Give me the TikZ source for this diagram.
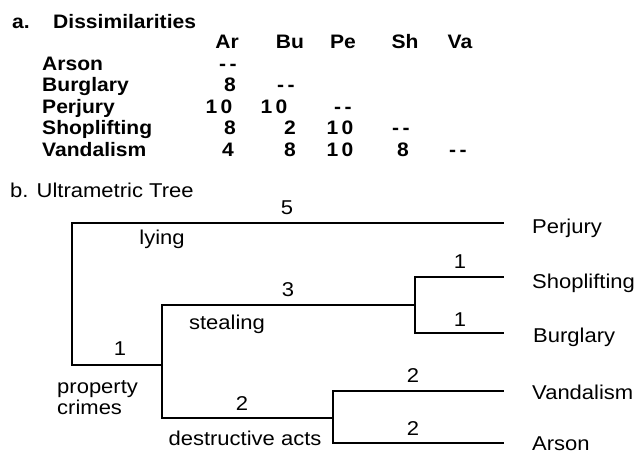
\documentclass[tikz,border=0pt]{standalone}
\usepackage{fontspec}
\setmainfont{Liberation Sans}
\begin{document}
\begin{tikzpicture}[x=1pt,y=-1pt,
  tb/.style={inner sep=0pt,font=\fontsize{19.5}{21}\selectfont\bfseries,xscale=1.08},
  lbl/.style={tb,anchor=mid west},
  val/.style={tb,anchor=mid},
  tt/.style={inner sep=0pt,font=\fontsize{20}{22}\selectfont,xscale=1.1},
  tl/.style={tt,anchor=mid},
  br/.style={line width=2.6pt,line cap=rect}]
\useasboundingbox (0,0) rectangle (638,455);
% ---- part a
\node[lbl] (ta) at (12,26) {a.};
\node[lbl] (tdis) at (53,26) {Dissimilarities};
\node[val] (hAr) at (227,46) {Ar};
\node[val] (hBu) at (290,46) {Bu};
\node[val] (hPe) at (343,46) {Pe};
\node[val] (hSh) at (405,46) {Sh};
\node[val] (hVa) at (460,46) {Va};
\node[lbl] (rAr) at (42,68) {Arson};
\node[lbl] (rBu) at (42,89) {Burglary};
\node[lbl] (rPe) at (42,111) {Perjury};
\node[lbl] (rSh) at (42,132) {Shoplifting};
\node[lbl] (rVa) at (42,154) {Vandalism};
\node[val] (v11) at (228,68) {-\,-};
\node[val] (v21) at (230,89) {8};
\node[val] (v22) at (286,89) {-\,-};
\node[val] (v31) at (219,111) {1\,0};
\node[val] (v32) at (274,111) {1\,0};
\node[val] (v33) at (343,111) {-\,-};
\node[val] (v41) at (230,132) {8};
\node[val] (v42) at (290,132) {2};
\node[val] (v43) at (340,132) {1\,0};
\node[val] (v44) at (401,132) {-\,-};
\node[val] (v51) at (228,154) {4};
\node[val] (v52) at (290,154) {8};
\node[val] (v53) at (340,154) {1\,0};
\node[val] (v54) at (403,154) {8};
\node[val] (v55) at (458,154) {-\,-};
% ---- part b
\node[tt,anchor=mid west] (tb) at (10,195) {b. Ultrametric Tree};
% junction coordinates
\coordinate (rt) at (72,223);
\coordinate (rb) at (72,365);
\coordinate (n1) at (162,365);
\coordinate (n1t) at (162,305);
\coordinate (n1b) at (162,418);
\coordinate (n2) at (415,305);
\coordinate (n2t) at (415,277);
\coordinate (n2b) at (415,333);
\coordinate (n3) at (333,418);
\coordinate (n3t) at (333,391);
\coordinate (n3b) at (333,443);
\coordinate (ePe) at (503,223);
\coordinate (eSh) at (503,277);
\coordinate (eBu) at (503,333);
\coordinate (eVa) at (503,391);
\coordinate (eAr) at (503,443);
% leaves
\node[tt,anchor=mid west] (lPe) at (532,231) {Perjury};
\node[tt,anchor=mid west] (lSh) at (532,286) {Shoplifting};
\node[tt,anchor=mid west] (lBu) at (533,340) {Burglary};
\node[tt,anchor=mid west] (lVa) at (532,397) {Vandalism};
\node[tt,anchor=mid west] (lAr) at (532,448) {Arson};
% branches
\draw[br] (ePe) -- (rt) -- (rb) -- (n1);
\draw[br] (n1t) -- (n1b);
\draw[br] (n1t) -- (n2);
\draw[br] (eSh) -- (n2t) -- (n2b) -- (eBu);
\draw[br] (n1b) -- (n3);
\draw[br] (eVa) -- (n3t) -- (n3b) -- (eAr);
% edge labels
\node[tl] (w5) at (287,212) {5};
\node[tl] (lying) at (162,242) {lying};
\node[tl] (w1) at (120,353) {1};
\node[tt,anchor=mid west] (pc1) at (57,391) {property};
\node[tt,anchor=mid west] (pc2) at (57,412) {crimes};
\node[tl] (w3) at (288,294) {3};
\node[tl] (steal) at (227,327) {stealing};
\node[tl] (w2) at (242,408) {2};
\node[tl] (destr) at (245,443) {destructive acts};
\node[tl] (w1a) at (460,266) {1};
\node[tl] (w1b) at (460,324) {1};
\node[tl] (w2a) at (413,380) {2};
\node[tl] (w2b) at (413,433) {2};
\end{tikzpicture}
\end{document}
